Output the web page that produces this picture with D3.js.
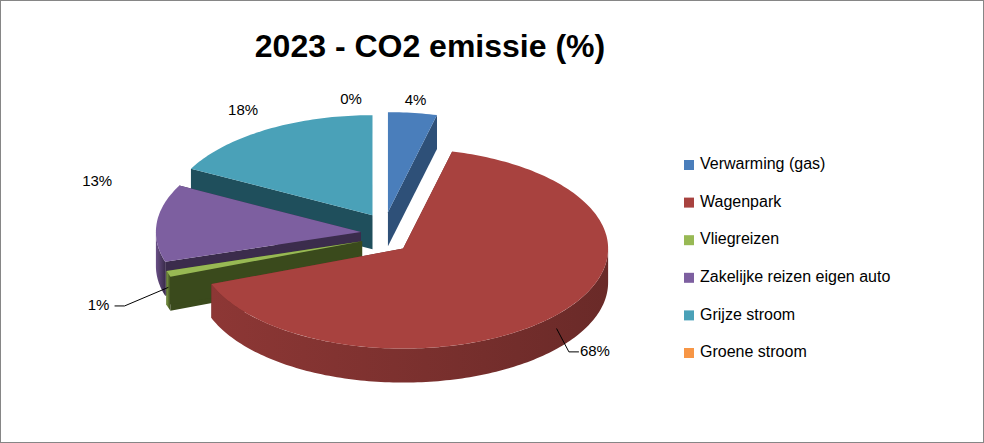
<!DOCTYPE html>
<html><head><meta charset="utf-8">
<script src="https://cdn.jsdelivr.net/npm/d3@7"></script>
<style>body{margin:0;background:#fff}</style></head>
<body><svg id="c" width="984" height="443"></svg>
<script>
const categories=["Verwarming (gas)","Wagenpark","Vliegreizen","Zakelijke reizen eigen auto","Grijze stroom","Groene stroom"];
const values=[4,68,1,13,18,0];
const labels=["4%","68%","1%","13%","18%","0%"];
const topColors=["#4a7ebb","#a8423f","#98b954","#7d5fa0","#4aa1b8","#f79646"];
const sideColors=["#2e5078","#6a2a28","#3a4a1c","#3b2c4c","#1f4f5c","#9a5a2a"];

const svg=d3.select("#c");
svg.append("rect").attr("x",0.5).attr("y",0.5).attr("width",983).attr("height",442).attr("fill","#fff").attr("stroke","#868686");
svg.append("text").attr("x",430).attr("y",57).attr("text-anchor","middle")
 .attr("font-family","Liberation Sans, Arial").attr("font-weight","bold").attr("font-size",32).text("2023 - CO2 emissie (%)");

const cx=385,cy=234,rx=205,ry=100,depth=34,explode=22;
const pie=d3.pie().sort(null).value(d=>d)(values);
const g=svg.append("g");
const slices=pie.map((p,i)=>{const mid=(p.startAngle+p.endAngle)/2;
 return {p,i,mid,ox:cx+Math.sin(mid)*explode*1.1,oy:cy-Math.cos(mid)*explode};});
function arcPts(a0,a1,dy,ox,oy){const n=Math.max(2,Math.ceil((a1-a0)/0.02));const pts=[];
 for(let k=0;k<=n;k++){const a=a0+(a1-a0)*k/n;pts.push([ox+Math.sin(a)*rx,oy-Math.cos(a)*ry+dy]);}return pts;}
const line=d3.line();
const order=slices.filter(s=>s.p.value>0).slice().sort((a,b)=>(-Math.cos(a.mid))-(-Math.cos(b.mid)));
order.forEach(s=>{
 const {p,ox,oy,i}=s;
 [p.startAngle,p.endAngle].forEach(a=>{
   const e=[ox+Math.sin(a)*rx,oy-Math.cos(a)*ry];
   g.append("path").attr("d",line([[ox,oy],e,[e[0],e[1]+depth],[ox,oy+depth]])+"Z").attr("fill",sideColors[i]);
 });
 const a0=Math.max(p.startAngle,Math.PI/2),a1=Math.min(p.endAngle,3*Math.PI/2);
 if(a1>a0){const t=arcPts(a0,a1,0,ox,oy),b=arcPts(a0,a1,depth,ox,oy).reverse();
   const grad="gw"+i;
   const lg=svg.append("defs").append("linearGradient").attr("id",grad).attr("x1","0").attr("x2","1");
   lg.append("stop").attr("offset","0").attr("stop-color",d3.color(topColors[i]).darker(0.5));
   lg.append("stop").attr("offset","1").attr("stop-color",sideColors[i]);
   g.append("path").attr("d",line(t.concat(b))+"Z").attr("fill",`url(#${grad})`);}
 const t=arcPts(p.startAngle,p.endAngle,0,ox,oy);
 g.append("path").attr("d",line([[ox,oy]].concat(t))+"Z").attr("fill",topColors[i]);
});
// labels: radius factor and angle nudge per slice
const lblR=[1.12,1.25,1.36,1.38,1.22,1.12];
const lblNudge=[0,0,0,0.28,0,0];
slices.forEach(s=>{
 const r=lblR[s.i], a=s.mid+lblNudge[s.i];
 const x=s.ox+Math.sin(a)*rx*r, y=s.oy-Math.cos(a)*ry*r+(Math.cos(a)<0?depth*0.6:0);
 const tx=s.i===5?x-34:x;
 svg.append("text").attr("x",tx).attr("y",y).attr("text-anchor","middle").attr("dominant-baseline","middle")
  .attr("font-family","Liberation Sans, Arial").attr("font-size",15).text(labels[s.i]);
 if(s.i===1||s.i===2){
  const e=[s.ox+Math.sin(s.mid)*rx,s.oy-Math.cos(s.mid)*ry+depth*0.4];
  const dir=Math.sin(s.mid)>0?-1:1;
  svg.append("path").attr("d",line([[x+dir*16,y],[x+dir*26,y],e])).attr("fill","none").attr("stroke","#000");
 }
});
const lg=svg.append("g").attr("transform","translate(684,165)");
categories.forEach((c,i)=>{
 const r=lg.append("g").attr("transform",`translate(0,${i*37.6})`);
 r.append("rect").attr("x",0).attr("y",-5).attr("width",10).attr("height",10).attr("fill",topColors[i]);
 r.append("text").attr("x",16).attr("y",0).attr("dominant-baseline","middle").attr("font-family","Liberation Sans, Arial").attr("font-size",16).text(c);
});
</script></body></html>
